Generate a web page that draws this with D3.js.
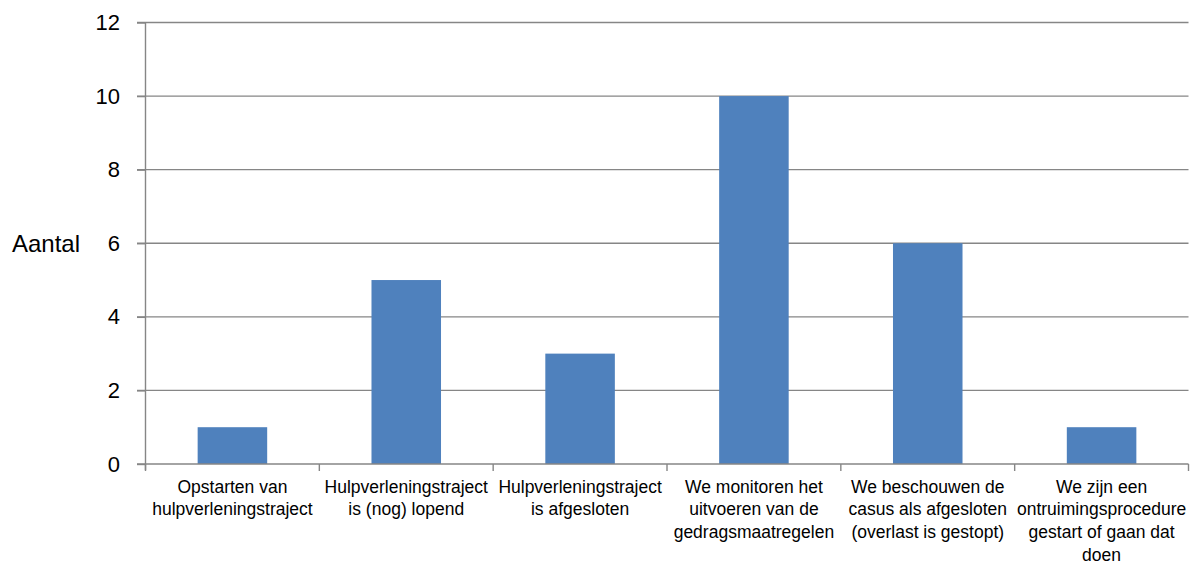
<!DOCTYPE html>
<html>
<head>
<meta charset="utf-8">
<script src="https://cdn.jsdelivr.net/npm/d3@7"></script>
<style>
  html, body { margin: 0; padding: 0; background: #ffffff; }
  svg { display: block; }
  text { font-family: "Liberation Sans", Arial, sans-serif; fill: #000; }
</style>
</head>
<body>
<svg id="chart" width="1201" height="565"></svg>
<script>
// Categories (line breaks mark where each label wraps)
const categories = [
  "Opstarten van\nhulpverleningstraject",
  "Hulpverleningstraject\nis (nog) lopend",
  "Hulpverleningstraject\nis afgesloten",
  "We monitoren het\nuitvoeren van de\ngedragsmaatregelen",
  "We beschouwen de\ncasus als afgesloten\n(overlast is gestopt)",
  "We zijn een\nontruimingsprocedure\ngestart of gaan dat\ndoen"
];
const values = [1, 5, 3, 10, 6, 1];
const yTicks = [0, 2, 4, 6, 8, 10, 12];
const yTitle = "Aantal";

const svg = d3.select("#chart");
const plotLeft = 145.5, plotRight = 1188.5, plotTop = 22.5, plotBottom = 464;
const gridColor = "#868686";

const x = d3.scaleBand()
  .domain(d3.range(categories.length))
  .range([plotLeft, plotRight])
  .paddingInner(0.6)
  .paddingOuter(0.3);

// band boundaries for the category ticks
const step = (plotRight - plotLeft) / categories.length;

const y = d3.scaleLinear().domain([0, 12]).range([plotBottom, plotTop]);

// horizontal gridlines (including tick stub to the left of the axis)
svg.append("g")
  .selectAll("line")
  .data(yTicks.filter(d => d > 0))
  .join("line")
  .attr("x1", plotLeft - 8.5)
  .attr("x2", plotRight)
  .attr("y1", d => y(d))
  .attr("y2", d => y(d))
  .attr("stroke", gridColor)
  .attr("stroke-width", 1.4);

// bars
svg.append("g")
  .selectAll("rect")
  .data(values)
  .join("rect")
  .attr("x", (d, i) => x(i))
  .attr("width", x.bandwidth())
  .attr("y", d => y(d))
  .attr("height", d => y(0) - y(d))
  .attr("fill", "#4F81BD");

// y axis
const yAxis = d3.axisLeft(y).tickValues(yTicks).tickSize(8.5).tickPadding(17).tickFormat(d3.format("d"));
const gy = svg.append("g").attr("transform", `translate(${plotLeft},0)`).call(yAxis);
gy.select(".domain").attr("stroke", gridColor).attr("stroke-width", 1.4).attr("d", `M0,${plotTop}V${plotBottom + 6}`);
gy.selectAll(".tick line").attr("stroke", gridColor).attr("stroke-width", 1.4);
gy.selectAll(".tick text")
  .style("font-family", '"Liberation Sans", Arial, sans-serif')
  .style("font-size", "22px")
  .attr("fill", "#000");

// x axis baseline and category ticks
const gx = svg.append("g");
gx.append("line")
  .attr("x1", plotLeft - 8.5).attr("x2", plotRight)
  .attr("y1", plotBottom).attr("y2", plotBottom)
  .attr("stroke", gridColor).attr("stroke-width", 1.4);
gx.selectAll("line.cat")
  .data(d3.range(categories.length + 1))
  .join("line")
  .attr("class", "cat")
  .attr("x1", i => plotLeft + i * step)
  .attr("x2", i => plotLeft + i * step)
  .attr("y1", plotBottom)
  .attr("y2", plotBottom + 7)
  .attr("stroke", gridColor).attr("stroke-width", 1.4);

// category labels
const labels = svg.append("g")
  .selectAll("text")
  .data(categories)
  .join("text")
  .attr("text-anchor", "middle")
  .style("font-size", "17.5px")
  .attr("transform", (d, i) => `translate(${x(i) + x.bandwidth() / 2},${plotBottom + 28.5})`);
labels.selectAll("tspan")
  .data(d => d.split("\n"))
  .join("tspan")
  .attr("x", 0)
  .attr("y", (d, j) => j * 22.8)
  .text(d => d);

// y axis title
svg.append("text")
  .attr("x", 12)
  .attr("y", y(6) + 8.5)
  .style("font-size", "24px")
  .text(yTitle);
</script>
</body>
</html>
